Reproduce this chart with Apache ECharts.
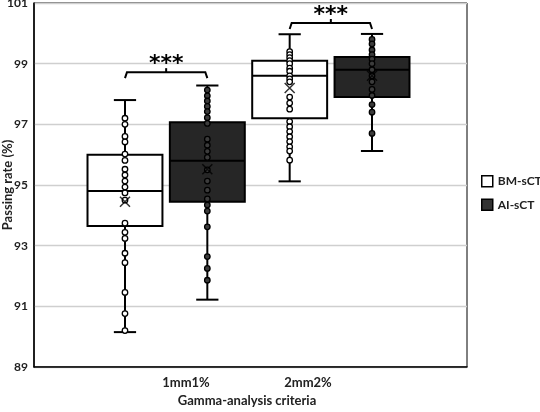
<!DOCTYPE html>
<html>
<head>
<meta charset="utf-8">
<script src="https://cdn.jsdelivr.net/npm/echarts@6/dist/echarts.min.js"></script>
<style>
  html, body { margin: 0; padding: 0; background: #fff; }
  #chart { width: 540px; height: 412px; }
</style>
</head>
<body>
<div id="chart"></div>
<script>
// slots on the hidden axis: one per box
const slots = ['BM 1mm1%', 'AI 1mm1%', 'BM 2mm2%', 'AI 2mm2%']
const criteria = ['1mm1%', '2mm2%']
const seriesNames = ['BM-sCT', 'AI-sCT']

// [slot, min, Q1, median, Q3, max]
const bmBoxes = [
  [0, 90.15, 93.65, 94.8, 96.0, 97.8],
  [2, 95.12, 97.2, 98.6, 99.1, 99.97],
]
const aiBoxes = [
  [1, 91.22, 94.45, 95.8, 97.07, 98.28],
  [3, 96.12, 97.9, 98.8, 99.22, 99.98],
]
const means = [[0, 94.45], [1, 95.52], [2, 98.2], [3, 98.6]]

const bm1 = [97.2, 97.0, 96.6, 96.42, 96.02, 95.81, 95.52, 95.33, 95.13, 94.93, 94.74, 94.5,
  93.74, 93.44, 93.24, 92.75, 92.44, 91.46, 90.76, 90.2]
const ai1 = [98.13, 97.94, 97.77, 97.59, 97.42, 97.22, 97.03, 96.51, 96.31, 96.11, 95.91,
  95.5, 95.13, 94.83, 94.54, 94.34, 94.14, 93.62, 92.64, 92.25, 91.86]
const bm2 = [99.4, 99.3, 99.2, 99.1, 99.0, 98.85, 98.75, 98.6, 98.5, 98.4, 97.9, 97.7, 97.5,
  97.09, 96.92, 96.76, 96.59, 96.43, 96.26, 96.12, 95.82]
const ai2 = [99.8, 99.65, 99.45, 99.3, 99.15, 99.0, 98.8, 98.6, 98.4, 98.15, 97.95, 97.65,
  97.4, 96.7]

// significance brackets: [from slot, to slot, level]
const brackets = [[0, 1, 98.72], [2, 3, 100.34]]

const font = 'Lato, "Open Sans", sans-serif'

const pts = (slot, arr) => arr.map((v) => [slot, v])

function renderBox(params, api) {
  const x = api.value(0)
  const lo = api.coord([x, api.value(1)])
  const q1 = api.coord([x, api.value(2)])
  const med = api.coord([x, api.value(3)])
  const q3 = api.coord([x, api.value(4)])
  const hi = api.coord([x, api.value(5)])
  const band = api.size([1, 0])[0]
  const bw = band * 0.91
  const cw = band * 0.27
  const cx = q1[0]
  const line = { stroke: '#000', lineWidth: 2 }
  return {
    type: 'group',
    children: [
      { type: 'line', shape: { x1: cx, y1: hi[1], x2: cx, y2: q3[1] }, style: line },
      { type: 'line', shape: { x1: cx, y1: q1[1], x2: cx, y2: lo[1] }, style: line },
      { type: 'line', shape: { x1: cx - cw / 2, y1: hi[1], x2: cx + cw / 2, y2: hi[1] }, style: line },
      { type: 'line', shape: { x1: cx - cw / 2, y1: lo[1], x2: cx + cw / 2, y2: lo[1] }, style: line },
      {
        type: 'rect',
        shape: { x: cx - bw / 2, y: q3[1], width: bw, height: q1[1] - q3[1] },
        style: { fill: api.visual('color'), stroke: '#000', lineWidth: 2 },
      },
      { type: 'line', shape: { x1: cx - bw / 2, y1: med[1], x2: cx + bw / 2, y2: med[1] }, style: line },
    ],
  }
}

function renderBracket(params, api) {
  const a = api.coord([api.value(0), api.value(2)])
  const b = api.coord([api.value(1), api.value(2)])
  const mx = (a[0] + b[0]) / 2
  const y = a[1]
  const st = { stroke: '#000', lineWidth: 2, fill: 'none' }
  return {
    type: 'group',
    children: [
      { type: 'polyline', shape: { points: [[a[0], y + 6], [a[0] + 2, y], [b[0] - 2, y], [b[0], y + 6]] }, style: st },
      { type: 'line', shape: { x1: mx, y1: y, x2: mx, y2: y - 4 }, style: st },
      {
        type: 'text',
        x: mx, y: y + 3,
        style: { text: '***', fill: '#000', font: 'bold 22px "DejaVu Sans"', align: 'center', verticalAlign: 'bottom' },
      },
    ],
  }
}

const chart = echarts.init(document.getElementById('chart'))

const dotStyle = (fill) => ({ color: fill, borderColor: '#000', borderWidth: 1.3, opacity: 1 })
const txt = { fontFamily: font, fontWeight: 'bold', color: '#222' }

chart.setOption({
  animation: false,
  textStyle: { fontFamily: font },
  title: {
    text: 'Gamma-analysis criteria',
    left: 242,
    top: 389,
    textAlign: 'center',
    textStyle: { ...txt, fontSize: 13 },
  },
  legend: {
    orient: 'vertical',
    left: 481,
    top: 175,
    padding: 0,
    itemWidth: 11,
    itemHeight: 11,
    itemGap: 11,
    icon: 'rect',
    textStyle: { ...txt, fontSize: 12 },
    data: [
      { name: seriesNames[0], itemStyle: { color: '#fff', borderColor: '#000', borderWidth: 1.5 } },
      { name: seriesNames[1], itemStyle: { color: '#333', borderColor: '#000', borderWidth: 1.5 } },
    ],
  },
  grid: [
    { left: 34, right: 73, top: 3, bottom: 45, show: true, borderColor: '#000', borderWidth: 1, outerBoundsMode: 'none' },
    { left: 83.8, right: 126.8, top: 3, bottom: 45, outerBoundsMode: 'none' },
    { left: 125, right: 171, top: 3, bottom: 45, outerBoundsMode: 'none' },
  ],
  xAxis: [
    {
      gridIndex: 0, type: 'category', data: criteria,
      axisLine: { lineStyle: { color: '#000', width: 1.5 } },
      axisTick: { show: false }, axisLabel: { show: false },
    },
    { gridIndex: 1, type: 'category', data: slots, show: false },
    {
      gridIndex: 2, type: 'category', data: criteria,
      axisLine: { show: false }, axisTick: { show: false },
      axisLabel: { ...txt, margin: 9, fontSize: 13 },
    },
  ],
  yAxis: [
    {
      gridIndex: 0, type: 'value', min: 89, max: 101, interval: 2,
      name: 'Passing rate (%)', nameLocation: 'middle', nameGap: 20, nameRotate: 90,
      nameMoveOverlap: false,
      nameTextStyle: { ...txt, fontSize: 13 },
      axisLine: { show: true, lineStyle: { color: '#000', width: 1.5 } },
      axisTick: { show: false },
      axisLabel: { ...txt, margin: 6, fontSize: 12 },
      splitLine: { lineStyle: { color: '#cfcfcf', width: 1.3 } },
    },
    { gridIndex: 1, type: 'value', min: 89, max: 101, show: false },
    { gridIndex: 2, type: 'value', min: 89, max: 101, show: false },
  ],
  series: [
    {
      name: seriesNames[0], type: 'custom', xAxisIndex: 1, yAxisIndex: 1,
      itemStyle: { color: '#fff' }, renderItem: renderBox,
      encode: { x: 0, y: [1, 2, 3, 4, 5] }, data: bmBoxes, z: 2,
    },
    {
      name: seriesNames[1], type: 'custom', xAxisIndex: 1, yAxisIndex: 1,
      itemStyle: { color: '#262626' }, renderItem: renderBox,
      encode: { x: 0, y: [1, 2, 3, 4, 5] }, data: aiBoxes, z: 2,
    },
    {
      name: 'BM points', type: 'scatter', xAxisIndex: 1, yAxisIndex: 1,
      symbolSize: 5.5, itemStyle: dotStyle('#fff'), z: 3,
      data: pts(0, bm1).concat(pts(2, bm2)),
    },
    {
      name: 'AI points', type: 'scatter', xAxisIndex: 1, yAxisIndex: 1,
      symbolSize: 5.5, itemStyle: dotStyle('#3c3c3c'), z: 3,
      data: pts(1, ai1).concat(pts(3, ai2)),
    },
    {
      name: 'Mean', type: 'scatter', xAxisIndex: 1, yAxisIndex: 1,
      symbol: 'path://M0,0L10,10M10,0L0,10', symbolSize: 10,
      itemStyle: { color: 'none', borderColor: '#000', borderWidth: 1.5 }, z: 4,
      data: means,
    },
    {
      name: 'Significance', type: 'custom', xAxisIndex: 1, yAxisIndex: 1,
      renderItem: renderBracket, encode: { x: [0, 1], y: 2 }, data: brackets, z: 5, clip: false,
    },
  ],
})
</script>
</body>
</html>
